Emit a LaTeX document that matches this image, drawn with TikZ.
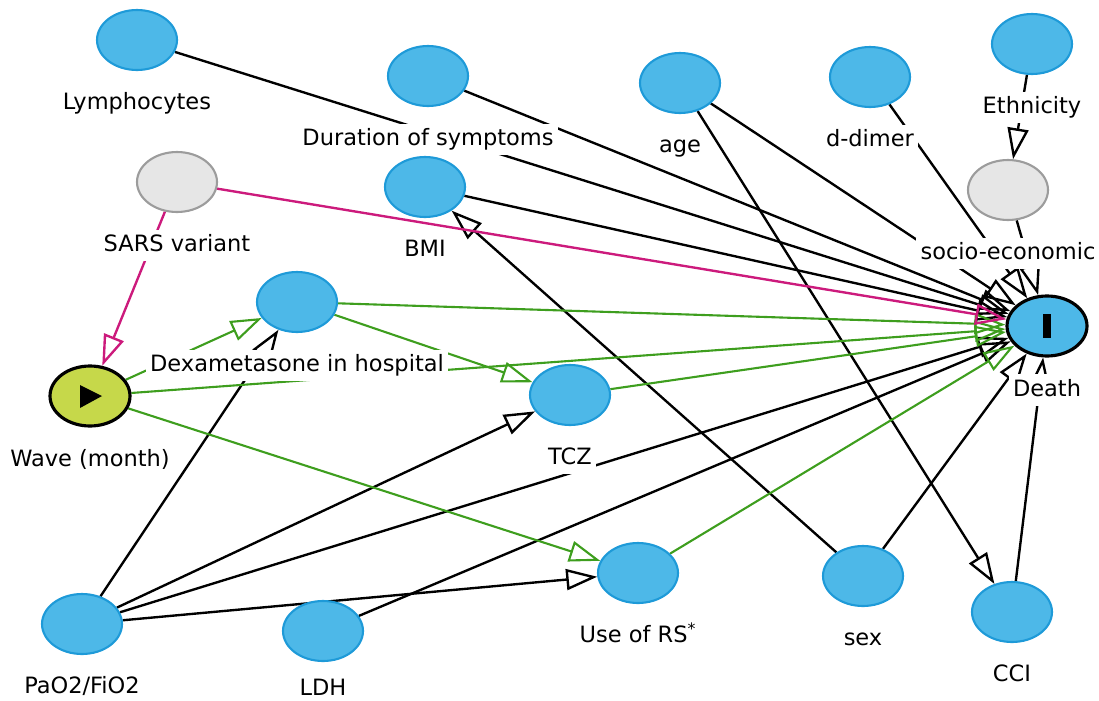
\documentclass[tikz,border=0pt]{standalone}
\usepackage{fontspec}
\setmainfont{DejaVu Sans}
\usepackage{tikz}
\usetikzlibrary{arrows.meta,backgrounds,calc,positioning,shapes.geometric}
\definecolor{nodeblue}{HTML}{4DB8E8}
\definecolor{nodeedge}{HTML}{1E9AD8}
\definecolor{latgray}{HTML}{E6E6E6}
\definecolor{latedge}{HTML}{9C9C9C}
\definecolor{expgreen}{HTML}{C6D84A}
\definecolor{pathgreen}{HTML}{3E9E1E}
\definecolor{biasred}{HTML}{CC1A7C}
\tikzset{
  var/.style={ellipse,draw=nodeedge,fill=nodeblue,line width=1.2pt,minimum width=1.6cm,minimum height=1.2cm,inner sep=0pt},
  latent/.style={var,draw=latedge,fill=latgray},
  exposure/.style={var,draw=black,fill=expgreen,line width=1.8pt},
  outcome/.style={var,draw=black,line width=1.8pt},
  txt/.style={fill=white,inner sep=2.5pt,text height=9.8pt,text depth=3pt,font=\fontsize{12.8}{15}\selectfont},
  arr/.style={line width=1.35pt,-{Triangle[open,length=0.62cm,width=0.42cm]}},
  caus/.style={arr,draw=pathgreen,line width=1.2pt},
  bias/.style={arr,draw=biasred}
}

\begin{document}
\begin{tikzpicture}[x=0.02cm,y=-0.02cm]
\useasboundingbox (0,0) rectangle (1099,700);
\node[var] (lym) at (137,40) {};
\node[var] (dur) at (428,76) {};
\node[var] (age) at (680,83) {};
\node[var] (ddim) at (870,77) {};
\node[var] (eth) at (1032,44) {};
\node[latent] (soc) at (1008,190) {};
\node[latent] (sars) at (177,182) {};
\node[var] (bmi) at (425,187) {};
\node[var] (dex) at (297,302) {};
\node[exposure] (wave) at (90,396) {};
\node[var] (tcz) at (570,395) {};
\node[outcome] (death) at (1047,326) {};
\node[var] (pao) at (82,624) {};
\node[var] (ldh) at (323,631) {};
\node[var] (rs) at (638,573) {};
\node[var] (sex) at (863,576) {};
\node[var] (cci) at (1012,612) {};
\fill ($(wave)+(-10,-11)$) -- ($(wave)+(-10,12)$) -- ($(wave)+(12,0)$) -- cycle;
\fill ($(death)+(-4,-12)$) rectangle ($(death)+(4,12)$);
\begin{scope}[on background layer]
\draw[arr] (lym) -- (death);
\draw[arr] (dur) -- (death);
\draw[arr] (age) -- (death);
\draw[arr] (age) -- (cci);
\draw[arr] (ddim) -- (death);
\draw[arr] (bmi) -- (death);
\draw[arr] (eth) -- (soc);
\draw[arr] (soc) -- (death);
\draw[arr] (sex) -- (death);
\draw[arr] (sex) -- (bmi);
\draw[arr] (cci) -- (death);
\draw[arr] (pao) -- (dex);
\draw[arr] (pao) -- (tcz);
\draw[arr] (pao) -- (death);
\draw[arr] (pao) -- (rs);
\draw[arr] (ldh) -- (death);
\draw[caus] (wave) -- (dex);
\draw[caus] (wave) -- (death);
\draw[caus] (wave) -- (rs);
\draw[caus] (dex) -- (death);
\draw[caus] (dex) -- (tcz);
\draw[caus] (tcz) -- (death);
\draw[caus] (rs) -- (death);
\draw[bias] (sars) -- (wave);
\draw[bias] (sars) -- (death);
\end{scope}
\node[txt,below=3.3mm of lym] (lymT) {Lymphocytes};
\node[txt,below=3.3mm of dur] (durT) {Duration of symptoms};
\node[txt,below=3.3mm of age] (ageT) {age};
\node[txt,below=3.3mm of ddim] (ddimT) {d-dimer};
\node[txt,below=3.3mm of eth] (ethT) {Ethnicity};
\node[txt,below=3.3mm of soc] (socT) {socio-economic};
\node[txt,below=3.3mm of sars] (sarsT) {SARS variant};
\node[txt,below=3.3mm of bmi] (bmiT) {BMI};
\node[txt,below=3.3mm of dex] (dexT) {Dexametasone in hospital};
\node[txt,below=3.3mm of wave] (waveT) {Wave (month)};
\node[txt,below=3.3mm of tcz] (tczT) {TCZ};
\node[txt,below=3.3mm of death] (deathT) {Death};
\node[txt,below=3.3mm of pao] (paoT) {PaO2/FiO2};
\node[txt,below=2.2mm of ldh] (ldhT) {LDH};
\node[txt,below=3.3mm of rs] (rsT) {Use of RS\textsuperscript{*}};
\node[txt,below=3.3mm of sex] (sexT) {sex};
\node[txt,below=3.3mm of cci] (cciT) {CCI};
\end{tikzpicture}
\end{document}
